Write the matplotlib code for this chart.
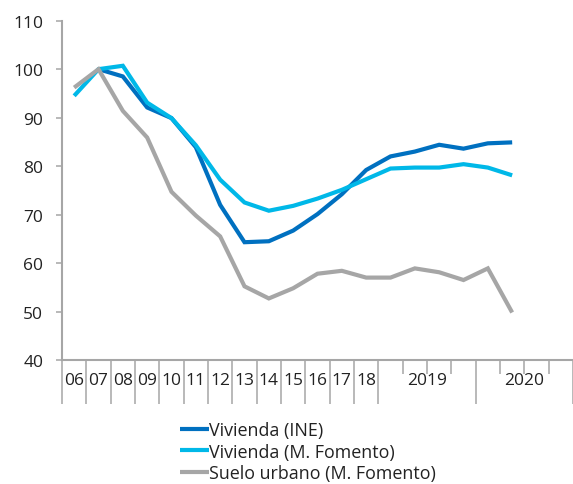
import numpy as np
import matplotlib
matplotlib.use("Agg")
import matplotlib.pyplot as plt
import matplotlib.transforms as mtransforms

plt.rcParams["font.family"] = ["Open Sans", "DejaVu Sans"]

# Annual points 2006-2018, then quarters of 2019 and 2020
year_labels = ["06", "07", "08", "09", "10", "11", "12", "13", "14", "15",
               "16", "17", "18"]
quarter_years = ["2019", "2020"]
n_quarters = 4

vivienda_ine = [np.nan, 100, 98.5, 92.1, 89.9, 83.9, 72.0, 64.3, 64.5, 66.7,
                70.1, 74.2, 79.2, 82.0, 83.0, 84.4, 83.6, 84.7, 84.9]
vivienda_fomento = [94.5, 100, 100.7, 93.1, 89.9, 84.3, 77.2, 72.5, 70.8, 71.8,
                    73.3, 75.1, 77.3, 79.5, 79.7, 79.7, 80.4, 79.7, 78.1]
suelo_urbano = [96.2, 100, 91.4, 85.9, 74.7, 69.8, 65.5, 55.2, 52.7, 54.8,
                57.8, 58.4, 57.0, 57.0, 58.9, 58.1, 56.5, 58.9, 49.8]

series = [
    ("Vivienda (INE)", vivienda_ine, "#0070C0"),
    ("Vivienda (M. Fomento)", vivienda_fomento, "#00B8E8"),
    ("Suelo urbano (M. Fomento)", suelo_urbano, "#A6A6A6"),
]

W, H = 573, 485
fig = plt.figure(figsize=(W / 100, H / 100), dpi=100)
ax = fig.add_axes([62 / W, 1 - 361 / H, 1 - 62 / W, (361 - 21.7) / H])

x = np.arange(len(suelo_urbano)) + 0.5
for label, vals, col in series:
    ax.plot(x, vals, color=col, lw=3, label=label, solid_capstyle="butt",
            solid_joinstyle="miter")

ax.set_xlim(0, 20.85)
ax.set_ylim(40, 110)
ax.set_yticks(np.arange(40, 111, 10))

axis_col = "#A6A6A6"
for s in ["top", "right"]:
    ax.spines[s].set_visible(False)
for s in ["left", "bottom"]:
    ax.spines[s].set_color(axis_col)
    ax.spines[s].set_linewidth(1.5)

ax.tick_params(axis="y", length=4.5, width=1.1, color=axis_col, pad=9,
               labelsize=12.5, labelcolor="#222222")

# category separators: long at year boundaries, short between quarters
long_ticks = list(range(len(year_labels) + 1))
short_ticks = []
start = len(year_labels)
for k in range(len(quarter_years)):
    b = start + k * n_quarters
    long_ticks.append(b + n_quarters)
    short_ticks += [b + q for q in range(1, n_quarters)]
ax.set_xticks(long_ticks)
ax.set_xticks(short_ticks, minor=True)
ax.tick_params(axis="x", which="major", length=32, width=1.1, color=axis_col,
               labelbottom=False)
ax.tick_params(axis="x", which="minor", length=10, width=1.1, color=axis_col,
               labelbottom=False)

trans = mtransforms.blended_transform_factory(ax.transData, ax.transAxes)
label_y = -20 / (361 - 21.7)
for i, lab in enumerate(year_labels):
    ax.text(i + 0.5, label_y, lab, transform=trans, ha="center", va="center",
            fontsize=12.5, color="#222222")
for k, lab in enumerate(quarter_years):
    c = start + k * n_quarters + n_quarters / 2
    ax.text(c, label_y, lab, transform=trans, ha="center", va="center",
            fontsize=12.5, color="#222222")

fig.legend(loc="upper left", bbox_to_anchor=(180 / W, 1 - 422 / H),
           frameon=False, fontsize=12.9, handlelength=1.6, handletextpad=0.0,
           labelspacing=0.2, borderpad=0, borderaxespad=0,
           labelcolor="#222222")

fig.savefig("out.png", dpi=100)
